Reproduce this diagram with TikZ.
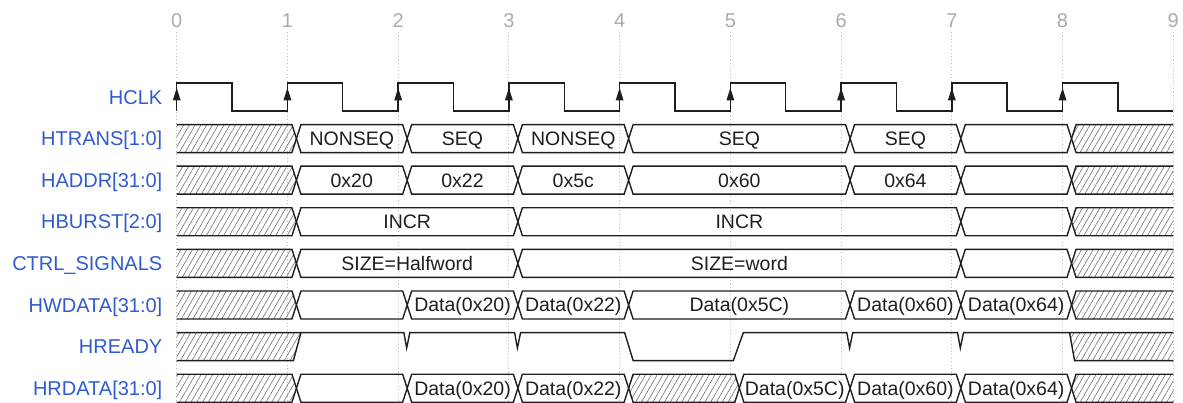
\documentclass[tikz,border=0pt]{standalone}
\usepackage{fontspec}
\setmainfont{Liberation Sans}
\usetikzlibrary{patterns.meta}

\definecolor{lblcol}{HTML}{2F5BCF}
\definecolor{wirecol}{HTML}{1E1E1E}
\definecolor{gridcol}{HTML}{BBBBBB}
\definecolor{tickcol}{HTML}{ABABAB}
\definecolor{hatchcol}{HTML}{707070}

% x position of clock edge #1
\newcommand\tX[1]{176.7+110.73*(#1)}

% one bus value between edges #2 and #3 on the row centred at #1
\newcommand\busseg[3]{%
  ({\tX{#2}+9},{#1}) -- ({\tX{#2}+13.5},{#1-14}) -- ({\tX{#3}+4.5},{#1-14})
  -- ({\tX{#3}+9},{#1}) -- ({\tX{#3}+4.5},{#1+14}) -- ({\tX{#2}+13.5},{#1+14}) -- cycle}

% undefined bus value from edge 0 up to edge 1
\newcommand\busstart[1]{%
  \fill[hatch] ({\tX{0}},{#1-14}) -- ({\tX{1}+4.5},{#1-14}) -- ({\tX{1}+9},{#1})
    -- ({\tX{1}+4.5},{#1+14}) -- ({\tX{0}},{#1+14}) -- cycle;
  \draw[wire] ({\tX{0}},{#1-14}) -- ({\tX{1}+4.5},{#1-14}) -- ({\tX{1}+9},{#1})
    -- ({\tX{1}+4.5},{#1+14}) -- ({\tX{0}},{#1+14});}

% undefined bus value from edge 8 to the end
\newcommand\busend[1]{%
  \fill[hatch] ({\tX{9}},{#1-14}) -- ({\tX{8}+13.5},{#1-14}) -- ({\tX{8}+9},{#1})
    -- ({\tX{8}+13.5},{#1+14}) -- ({\tX{9}},{#1+14}) -- cycle;
  \draw[wire] ({\tX{9}},{#1-14}) -- ({\tX{8}+13.5},{#1-14}) -- ({\tX{8}+9},{#1})
    -- ({\tX{8}+13.5},{#1+14}) -- ({\tX{9}},{#1+14});}

\tikzset{
  wire/.style={draw=wirecol, line width=1.4pt, line join=miter},
  hatch/.style={pattern={Lines[angle=60,distance=5pt,line width=0.6pt]}, pattern color=hatchcol},
  siglabel/.style={anchor=base east, text=lblcol, font=\fontsize{20}{24}\selectfont, inner sep=0pt},
  val/.style={anchor=base, text=wirecol, font=\fontsize{19.5}{24}\selectfont, inner sep=0pt},
  ticknum/.style={anchor=base, text=tickcol, font=\fontsize{20}{24}\selectfont, inner sep=0pt},
  gridline/.style={draw=gridcol, line width=0.8pt, dash pattern=on 1pt off 2.5pt},
}

\begin{document}
\begin{tikzpicture}[x=1pt,y=-1pt]
\useasboundingbox (0,0) rectangle (1183,403);

% time grid and edge numbers
\foreach \t in {0,...,9} {
  \draw[gridline] ({\tX{\t}},32) -- ({\tX{\t}},403);
  \node[ticknum] (n\t) at ({\tX{\t}},28) {\t};
}

% signal names
\node[siglabel] (lHCLK)   at (162.5,{97+7.2})    {HCLK};
\node[siglabel] (lHTRANS) at (162.5,{138.6+7.2}) {HTRANS[1:0]};
\node[siglabel] (lHADDR)  at (162.5,{180.2+7.2}) {HADDR[31:0]};
\node[siglabel] (lHBURST) at (162.5,{221.8+7.2}) {HBURST[2:0]};
\node[siglabel] (lCTRL)   at (162.5,{263.4+7.2}) {CTRL\_SIGNALS};
\node[siglabel] (lHWDATA) at (162.5,{305+7.2})   {HWDATA[31:0]};
\node[siglabel] (lHREADY) at (162.5,{346.6+7.2}) {HREADY};
\node[siglabel] (lHRDATA) at (162.5,{388.2+7.2}) {HRDATA[31:0]};

% HCLK
\draw[wire] ({\tX{0}},111)
  \foreach \t in {0,...,8} { -- ({\tX{\t}},111) -- ({\tX{\t}},83) -- ({\tX{\t+0.5}},83) -- ({\tX{\t+0.5}},111) }
  -- ({\tX{9}},111);
\foreach \t in {0,...,8}
  \fill[wirecol] ({\tX{\t}},88) -- ({\tX{\t}-4},100.5) -- ({\tX{\t}+4},100.5) -- cycle;

% HTRANS[1:0]
\busstart{138.6}
\draw[wire] \busseg{138.6}{1}{2} \busseg{138.6}{2}{3} \busseg{138.6}{3}{4}
  \busseg{138.6}{4}{6} \busseg{138.6}{6}{7} \busseg{138.6}{7}{8};
\busend{138.6}
\node[val] (tr1) at ({(\tX{1}+\tX{2})/2+9},{138.6+7}) {NONSEQ};
\node[val] (tr2) at ({(\tX{2}+\tX{3})/2+9},{138.6+7}) {SEQ};
\node[val] (tr3) at ({(\tX{3}+\tX{4})/2+9},{138.6+7}) {NONSEQ};
\node[val] (tr4) at ({(\tX{4}+\tX{6})/2+9},{138.6+7}) {SEQ};
\node[val] (tr5) at ({(\tX{6}+\tX{7})/2+9},{138.6+7}) {SEQ};

% HADDR[31:0]
\busstart{180.2}
\draw[wire] \busseg{180.2}{1}{2} \busseg{180.2}{2}{3} \busseg{180.2}{3}{4}
  \busseg{180.2}{4}{6} \busseg{180.2}{6}{7} \busseg{180.2}{7}{8};
\busend{180.2}
\node[val] (ad1) at ({(\tX{1}+\tX{2})/2+9},{180.2+7}) {0x20};
\node[val] (ad2) at ({(\tX{2}+\tX{3})/2+9},{180.2+7}) {0x22};
\node[val] (ad3) at ({(\tX{3}+\tX{4})/2+9},{180.2+7}) {0x5c};
\node[val] (ad4) at ({(\tX{4}+\tX{6})/2+9},{180.2+7}) {0x60};
\node[val] (ad5) at ({(\tX{6}+\tX{7})/2+9},{180.2+7}) {0x64};

% HBURST[2:0]
\busstart{221.8}
\draw[wire] \busseg{221.8}{1}{3} \busseg{221.8}{3}{7} \busseg{221.8}{7}{8};
\busend{221.8}
\node[val] (bu1) at ({(\tX{1}+\tX{3})/2+9},{221.8+7}) {INCR};
\node[val] (bu2) at ({(\tX{3}+\tX{7})/2+9},{221.8+7}) {INCR};

% CTRL_SIGNALS
\busstart{263.4}
\draw[wire] \busseg{263.4}{1}{3} \busseg{263.4}{3}{7} \busseg{263.4}{7}{8};
\busend{263.4}
\node[val] (ct1) at ({(\tX{1}+\tX{3})/2+9},{263.4+7}) {SIZE=Halfword};
\node[val] (ct2) at ({(\tX{3}+\tX{7})/2+9},{263.4+7}) {SIZE=word};

% HWDATA[31:0]
\busstart{305}
\draw[wire] \busseg{305}{1}{2} \busseg{305}{2}{3} \busseg{305}{3}{4}
  \busseg{305}{4}{6} \busseg{305}{6}{7} \busseg{305}{7}{8};
\busend{305}
\node[val] (wd1) at ({(\tX{2}+\tX{3})/2+9},{305+7}) {Data(0x20)};
\node[val] (wd2) at ({(\tX{3}+\tX{4})/2+9},{305+7}) {Data(0x22)};
\node[val] (wd3) at ({(\tX{4}+\tX{6})/2+9},{305+7}) {Data(0x5C)};
\node[val] (wd4) at ({(\tX{6}+\tX{7})/2+9},{305+7}) {Data(0x60)};
\node[val] (wd5) at ({(\tX{7}+\tX{8})/2+9},{305+7}) {Data(0x64)};

% HREADY
\fill[hatch] ({\tX{0}},332.6) -- ({\tX{1}+13.5},332.6) -- ({\tX{1}+6},360.6) -- ({\tX{0}},360.6) -- cycle;
\draw[wire] ({\tX{0}},332.6) -- ({\tX{1}+13.5},332.6) -- ({\tX{1}+6},360.6) -- ({\tX{0}},360.6);
\draw[wire] ({\tX{1}+13.5},332.6)
  -- ({\tX{2}+5.7},332.6) -- ({\tX{2}+8.5},348) -- ({\tX{2}+11.7},332.6)
  -- ({\tX{3}+5.7},332.6) -- ({\tX{3}+8.5},348) -- ({\tX{3}+11.7},332.6)
  -- ({\tX{4}+5},332.6) -- ({\tX{4}+13.5},360.6)
  -- ({\tX{5}+3},360.6) -- ({\tX{5}+13},332.6)
  -- ({\tX{6}+5.7},332.6) -- ({\tX{6}+8.5},348) -- ({\tX{6}+11.7},332.6)
  -- ({\tX{7}+5.7},332.6) -- ({\tX{7}+8.5},348) -- ({\tX{7}+11.7},332.6)
  -- ({\tX{8}+7},332.6);
\fill[hatch] ({\tX{8}+7},332.6) -- ({\tX{9}},332.6) -- ({\tX{9}},360.6) -- ({\tX{8}+12},360.6) -- cycle;
\draw[wire] ({\tX{9}},332.6) -- ({\tX{8}+7},332.6) -- ({\tX{8}+12},360.6) -- ({\tX{9}},360.6);

% HRDATA[31:0]
\busstart{388.2}
\draw[wire] \busseg{388.2}{1}{2} \busseg{388.2}{2}{3} \busseg{388.2}{3}{4}
  \busseg{388.2}{5}{6} \busseg{388.2}{6}{7} \busseg{388.2}{7}{8};
\draw[wire,hatch] \busseg{388.2}{4}{5};
\busend{388.2}
\node[val] (rd1) at ({(\tX{2}+\tX{3})/2+9},{388.2+7}) {Data(0x20)};
\node[val] (rd2) at ({(\tX{3}+\tX{4})/2+9},{388.2+7}) {Data(0x22)};
\node[val] (rd3) at ({(\tX{5}+\tX{6})/2+9},{388.2+7}) {Data(0x5C)};
\node[val] (rd4) at ({(\tX{6}+\tX{7})/2+9},{388.2+7}) {Data(0x60)};
\node[val] (rd5) at ({(\tX{7}+\tX{8})/2+9},{388.2+7}) {Data(0x64)};
\end{tikzpicture}
\end{document}
